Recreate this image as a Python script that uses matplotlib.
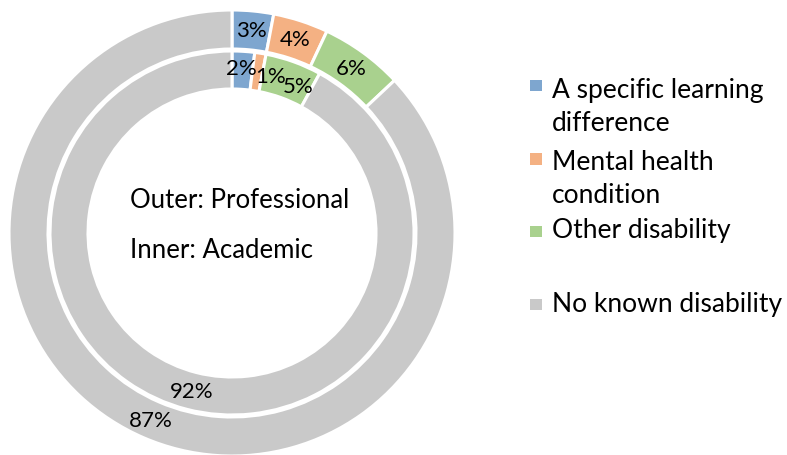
import matplotlib
matplotlib.use("Agg")
import matplotlib.pyplot as plt
from matplotlib.patches import Rectangle
import numpy as np

categories = ["A specific learning\ndifference", "Mental health\ncondition",
              "Other disability", "No known disability"]
outer_professional = [3, 4, 6, 87]
inner_academic = [2, 1, 5, 92]
colors = ["#7EA6CF", "#F4B183", "#A9D18E", "#C9C9C9"]

plt.rcParams['font.family'] = ['Lato', 'DejaVu Sans']

W, H, DPI = 787, 456, 100
fig = plt.figure(figsize=(W / DPI, H / DPI), dpi=DPI)

cx, cy, R = 232, 234, 223
ax = fig.add_axes([(cx - R) / W, (H - cy - R) / H, 2 * R / W, 2 * R / H])
ax.set_xlim(-1, 1)
ax.set_ylim(-1, 1)
ax.set_aspect('equal')
ax.axis('off')

r_out_outer = 1.0
w_out = 39 / R
r_in_outer = 182 / R
w_in = 38 / R

wp = dict(edgecolor='white', linewidth=2.2)
w1, t1, a1 = ax.pie(outer_professional, radius=r_out_outer, colors=colors,
                    startangle=90, counterclock=False,
                    wedgeprops=dict(width=w_out, **wp),
                    autopct='%.0f%%', pctdistance=(r_out_outer - w_out / 2) / r_out_outer,
                    textprops=dict(fontsize=16, color='black'))
w2, t2, a2 = ax.pie(inner_academic, radius=r_in_outer, colors=colors,
                    startangle=90, counterclock=False,
                    wedgeprops=dict(width=w_in, **wp),
                    autopct='%.0f%%', pctdistance=(r_in_outer - w_in / 2) / r_in_outer,
                    textprops=dict(fontsize=16, color='black'))
ax.set_xlim(-1, 1)
ax.set_ylim(-1, 1)

# nudge crowded inner labels apart
x, y = a2[0].get_position()
a2[0].set_position((x - 0.005, y + 0.012))
x, y = a2[1].get_position()
a2[1].set_position((x + 0.06, y - 0.02))
x, y = a2[2].get_position()
a2[2].set_position((x + 0.05, y - 0.03))

fig.text(130 / W, 1 - 208 / H, "Outer: Professional", fontsize=18.5, ha='left', va='baseline')
fig.text(130 / W, 1 - 258 / H, "Inner: Academic", fontsize=18.5, ha='left', va='baseline')

# legend
leg_sq = [86.5, 160, 232.5, 305.5]
leg_last_base = [131, 203, 238, 312]
for c, lab, yy, yb in zip(colors, categories, leg_sq, leg_last_base):
    s = 11.5
    fig.patches.append(Rectangle((530 / W, 1 - (yy + s / 2) / H), s / W, s / H,
                                 transform=fig.transFigure, facecolor=c, edgecolor='none'))
    fig.text(552 / W, 1 - yb / H, lab, fontsize=19, ha='left', va='baseline',
             linespacing=1.4)

fig.savefig("out.png", dpi=DPI)
